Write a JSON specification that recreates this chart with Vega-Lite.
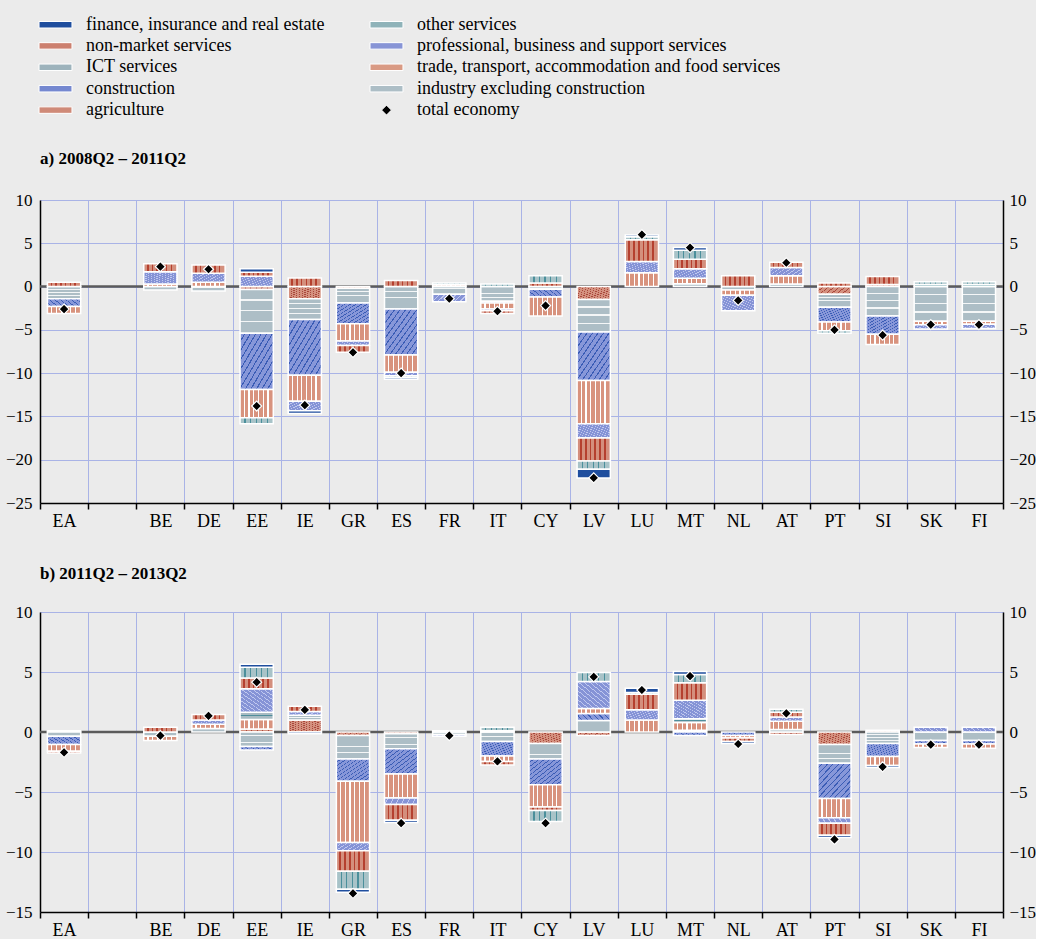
{
"$schema": "https://vega.github.io/schema/vega-lite/v6.json",
"padding": {"left": 5, "top": 15, "right": 0, "bottom": 0},
"config": {
  "background": "#ebebeb",
  "view": {"stroke": null},
  "font": "Liberation Serif",
  "axis": {"title": null, "labelFont": "Liberation Serif", "labelColor": "black"},
  "legend": {"padding": 0}
},
"spacing": 35,
"datasets": {
"seg": [
{"p":"a","c":"EA","s":"ind","v":-1.4},{"p":"a","c":"EA","s":"con","v":-0.9},{"p":"a","c":"EA","s":"tra","v":-0.8},{"p":"a","c":"EA","s":"nm","v":0.5},
{"p":"a","c":"BE","s":"ind","v":-0.4},{"p":"a","c":"BE","s":"tra","v":0.3},{"p":"a","c":"BE","s":"pro","v":1.4},{"p":"a","c":"BE","s":"nm","v":0.95},
{"p":"a","c":"DE","s":"ind","v":-0.5},{"p":"a","c":"DE","s":"tra","v":0.5},{"p":"a","c":"DE","s":"pro","v":1.05},{"p":"a","c":"DE","s":"nm","v":0.95},
{"p":"a","c":"EE","s":"agr","v":-0.35},{"p":"a","c":"EE","s":"ind","v":-5.05},{"p":"a","c":"EE","s":"con","v":-6.5},{"p":"a","c":"EE","s":"tra","v":-3.25},{"p":"a","c":"EE","s":"pro","v":1.2},{"p":"a","c":"EE","s":"nm","v":0.45},{"p":"a","c":"EE","s":"oth","v":-0.7},{"p":"a","c":"EE","s":"fin","v":0.4},
{"p":"a","c":"IE","s":"agr","v":-1.4},{"p":"a","c":"IE","s":"ind","v":-2.4},{"p":"a","c":"IE","s":"con","v":-6.45},{"p":"a","c":"IE","s":"tra","v":-3.0},{"p":"a","c":"IE","s":"pro","v":-1.1},{"p":"a","c":"IE","s":"nm","v":1.0},{"p":"a","c":"IE","s":"fin","v":-0.3},
{"p":"a","c":"GR","s":"agr","v":-0.2},{"p":"a","c":"GR","s":"ind","v":-1.7},{"p":"a","c":"GR","s":"con","v":-2.4},{"p":"a","c":"GR","s":"tra","v":-2.0},{"p":"a","c":"GR","s":"pro","v":-0.5},{"p":"a","c":"GR","s":"nm","v":-0.8},
{"p":"a","c":"ES","s":"ind","v":-2.6},{"p":"a","c":"ES","s":"con","v":-5.3},{"p":"a","c":"ES","s":"tra","v":-2.0},{"p":"a","c":"ES","s":"pro","v":-0.4},{"p":"a","c":"ES","s":"nm","v":0.7},{"p":"a","c":"ES","s":"oth","v":-0.2},{"p":"a","c":"ES","s":"fin","v":-0.2},
{"p":"a","c":"FR","s":"ind","v":-0.9},{"p":"a","c":"FR","s":"tra","v":0.2},{"p":"a","c":"FR","s":"pro","v":-0.85},{"p":"a","c":"FR","s":"oth","v":0.2},
{"p":"a","c":"IT","s":"ind","v":-1.7},{"p":"a","c":"IT","s":"con","v":-0.2},{"p":"a","c":"IT","s":"tra","v":-0.7},{"p":"a","c":"IT","s":"pro","v":-0.2},{"p":"a","c":"IT","s":"nm","v":-0.3},{"p":"a","c":"IT","s":"oth","v":0.3},
{"p":"a","c":"CY","s":"ind","v":-0.3},{"p":"a","c":"CY","s":"con","v":-0.9},{"p":"a","c":"CY","s":"tra","v":-2.2},{"p":"a","c":"CY","s":"nm","v":0.4},{"p":"a","c":"CY","s":"oth","v":0.85},
{"p":"a","c":"LV","s":"agr","v":-1.5},{"p":"a","c":"LV","s":"ind","v":-3.75},{"p":"a","c":"LV","s":"con","v":-5.6},{"p":"a","c":"LV","s":"tra","v":-5.0},{"p":"a","c":"LV","s":"pro","v":-1.65},{"p":"a","c":"LV","s":"nm","v":-2.65},{"p":"a","c":"LV","s":"oth","v":-0.95},{"p":"a","c":"LV","s":"fin","v":-1.0},
{"p":"a","c":"LU","s":"tra","v":1.6},{"p":"a","c":"LU","s":"pro","v":1.3},{"p":"a","c":"LU","s":"nm","v":2.5},{"p":"a","c":"LU","s":"oth","v":0.35},{"p":"a","c":"LU","s":"fin","v":0.2},
{"p":"a","c":"MT","s":"ind","v":0.33},{"p":"a","c":"MT","s":"tra","v":0.62},{"p":"a","c":"MT","s":"pro","v":1.1},{"p":"a","c":"MT","s":"nm","v":1.1},{"p":"a","c":"MT","s":"oth","v":1.05},{"p":"a","c":"MT","s":"fin","v":0.3},
{"p":"a","c":"NL","s":"ind","v":-0.4},{"p":"a","c":"NL","s":"tra","v":-0.6},{"p":"a","c":"NL","s":"pro","v":-1.8},{"p":"a","c":"NL","s":"nm","v":1.25},
{"p":"a","c":"AT","s":"ind","v":0.3},{"p":"a","c":"AT","s":"tra","v":0.95},{"p":"a","c":"AT","s":"pro","v":0.95},{"p":"a","c":"AT","s":"nm","v":0.6},
{"p":"a","c":"PT","s":"agr","v":-0.9},{"p":"a","c":"PT","s":"ind","v":-1.5},{"p":"a","c":"PT","s":"con","v":-1.7},{"p":"a","c":"PT","s":"tra","v":-1.0},{"p":"a","c":"PT","s":"nm","v":0.4},{"p":"a","c":"PT","s":"oth","v":-0.3},
{"p":"a","c":"SI","s":"agr","v":0.25},{"p":"a","c":"SI","s":"ind","v":-3.4},{"p":"a","c":"SI","s":"con","v":-2.1},{"p":"a","c":"SI","s":"tra","v":-1.2},{"p":"a","c":"SI","s":"nm","v":0.9},
{"p":"a","c":"SK","s":"ind","v":-4.0},{"p":"a","c":"SK","s":"tra","v":-0.4},{"p":"a","c":"SK","s":"ict","v":0.25},{"p":"a","c":"SK","s":"pro","v":-0.5},{"p":"a","c":"SK","s":"oth","v":0.3},
{"p":"a","c":"FI","s":"ind","v":-4.0},{"p":"a","c":"FI","s":"tra","v":-0.35},{"p":"a","c":"FI","s":"ict","v":0.25},{"p":"a","c":"FI","s":"pro","v":-0.5},{"p":"a","c":"FI","s":"oth","v":0.3},
{"p":"b","c":"EA","s":"agr","v":0.1},{"p":"b","c":"EA","s":"ind","v":-0.35},{"p":"b","c":"EA","s":"con","v":-0.7},{"p":"b","c":"EA","s":"tra","v":-0.55},{"p":"b","c":"EA","s":"nm","v":-0.15},
{"p":"b","c":"BE","s":"ind","v":-0.35},{"p":"b","c":"BE","s":"tra","v":-0.35},{"p":"b","c":"BE","s":"nm","v":0.4},
{"p":"b","c":"DE","s":"ind","v":0.3},{"p":"b","c":"DE","s":"tra","v":0.35},{"p":"b","c":"DE","s":"pro","v":0.35},{"p":"b","c":"DE","s":"nm","v":0.45},
{"p":"b","c":"EE","s":"agr","v":0.25},{"p":"b","c":"EE","s":"ind","v":-1.2},{"p":"b","c":"EE","s":"con","v":-0.3},{"p":"b","c":"EE","s":"tra","v":0.8},{"p":"b","c":"EE","s":"ict","v":0.6},{"p":"b","c":"EE","s":"pro","v":1.95},{"p":"b","c":"EE","s":"nm","v":0.9},{"p":"b","c":"EE","s":"oth","v":0.9},{"p":"b","c":"EE","s":"fin","v":0.25},
{"p":"b","c":"IE","s":"agr","v":1.0},{"p":"b","c":"IE","s":"ind","v":0.4},{"p":"b","c":"IE","s":"pro","v":0.3},{"p":"b","c":"IE","s":"nm","v":0.45},{"p":"b","c":"IE","s":"fin","v":-0.15},
{"p":"b","c":"GR","s":"agr","v":-0.3},{"p":"b","c":"GR","s":"ind","v":-1.95},{"p":"b","c":"GR","s":"con","v":-1.85},{"p":"b","c":"GR","s":"tra","v":-5.1},{"p":"b","c":"GR","s":"pro","v":-0.7},{"p":"b","c":"GR","s":"nm","v":-1.7},{"p":"b","c":"GR","s":"oth","v":-1.5},{"p":"b","c":"GR","s":"fin","v":-0.25},
{"p":"b","c":"ES","s":"agr","v":-0.15},{"p":"b","c":"ES","s":"ind","v":-1.25},{"p":"b","c":"ES","s":"con","v":-2.1},{"p":"b","c":"ES","s":"tra","v":-2.0},{"p":"b","c":"ES","s":"pro","v":-0.55},{"p":"b","c":"ES","s":"nm","v":-1.3},{"p":"b","c":"ES","s":"fin","v":-0.2},
{"p":"b","c":"FR","s":"ind","v":-0.2},{"p":"b","c":"FR","s":"tra","v":0.1},{"p":"b","c":"FR","s":"pro","v":-0.15},
{"p":"b","c":"IT","s":"ind","v":-0.8},{"p":"b","c":"IT","s":"con","v":-1.2},{"p":"b","c":"IT","s":"tra","v":-0.45},{"p":"b","c":"IT","s":"ict","v":0.1},{"p":"b","c":"IT","s":"nm","v":-0.3},{"p":"b","c":"IT","s":"oth","v":0.3},
{"p":"b","c":"CY","s":"agr","v":-0.95},{"p":"b","c":"CY","s":"ind","v":-1.3},{"p":"b","c":"CY","s":"con","v":-2.15},{"p":"b","c":"CY","s":"tra","v":-1.85},{"p":"b","c":"CY","s":"nm","v":-0.3},{"p":"b","c":"CY","s":"oth","v":-0.9},
{"p":"b","c":"LV","s":"agr","v":-0.3},{"p":"b","c":"LV","s":"ind","v":0.95},{"p":"b","c":"LV","s":"con","v":0.6},{"p":"b","c":"LV","s":"tra","v":0.4},{"p":"b","c":"LV","s":"pro","v":2.25},{"p":"b","c":"LV","s":"oth","v":0.75},
{"p":"b","c":"LU","s":"tra","v":1.0},{"p":"b","c":"LU","s":"pro","v":0.85},{"p":"b","c":"LU","s":"nm","v":1.3},{"p":"b","c":"LU","s":"oth","v":0.15},{"p":"b","c":"LU","s":"fin","v":0.35},
{"p":"b","c":"MT","s":"ind","v":0.15},{"p":"b","c":"MT","s":"con","v":-0.3},{"p":"b","c":"MT","s":"tra","v":0.65},{"p":"b","c":"MT","s":"ict","v":0.3},{"p":"b","c":"MT","s":"pro","v":1.55},{"p":"b","c":"MT","s":"nm","v":1.45},{"p":"b","c":"MT","s":"oth","v":0.7},{"p":"b","c":"MT","s":"fin","v":0.25},
{"p":"b","c":"NL","s":"con","v":-0.3},{"p":"b","c":"NL","s":"tra","v":-0.2},{"p":"b","c":"NL","s":"nm","v":-0.3},{"p":"b","c":"NL","s":"fin","v":-0.15},
{"p":"b","c":"AT","s":"agr","v":-0.2},{"p":"b","c":"AT","s":"ind","v":0.2},{"p":"b","c":"AT","s":"tra","v":0.7},{"p":"b","c":"AT","s":"pro","v":0.35},{"p":"b","c":"AT","s":"nm","v":0.4},{"p":"b","c":"AT","s":"oth","v":0.25},
{"p":"b","c":"PT","s":"agr","v":-1.05},{"p":"b","c":"PT","s":"ind","v":-1.55},{"p":"b","c":"PT","s":"con","v":-2.95},{"p":"b","c":"PT","s":"tra","v":-1.6},{"p":"b","c":"PT","s":"pro","v":-0.45},{"p":"b","c":"PT","s":"nm","v":-1.0},{"p":"b","c":"PT","s":"fin","v":-0.2},
{"p":"b","c":"SI","s":"agr","v":0.15},{"p":"b","c":"SI","s":"ind","v":-0.95},{"p":"b","c":"SI","s":"con","v":-1.1},{"p":"b","c":"SI","s":"tra","v":-0.75},{"p":"b","c":"SI","s":"fin","v":-0.15},
{"p":"b","c":"SK","s":"ind","v":-0.7},{"p":"b","c":"SK","s":"con","v":-0.3},{"p":"b","c":"SK","s":"tra","v":-0.3},{"p":"b","c":"SK","s":"pro","v":0.4},
{"p":"b","c":"FI","s":"ind","v":-0.7},{"p":"b","c":"FI","s":"con","v":-0.3},{"p":"b","c":"FI","s":"tra","v":-0.35},{"p":"b","c":"FI","s":"pro","v":0.4}
],
"tot": [
{"p":"a","c":"EA","v":-2.6},{"p":"a","c":"BE","v":2.3},{"p":"a","c":"DE","v":2.0},{"p":"a","c":"EE","v":-13.8},{"p":"a","c":"IE","v":-13.7},{"p":"a","c":"GR","v":-7.6},{"p":"a","c":"ES","v":-10.0},{"p":"a","c":"FR","v":-1.4},{"p":"a","c":"IT","v":-2.85},{"p":"a","c":"CY","v":-2.2},{"p":"a","c":"LV","v":-22.1},{"p":"a","c":"LU","v":6.0},{"p":"a","c":"MT","v":4.5},{"p":"a","c":"NL","v":-1.6},{"p":"a","c":"AT","v":2.75},{"p":"a","c":"PT","v":-5.0},{"p":"a","c":"SI","v":-5.6},{"p":"a","c":"SK","v":-4.4},{"p":"a","c":"FI","v":-4.4},
{"p":"b","c":"EA","v":-1.7},{"p":"b","c":"BE","v":-0.3},{"p":"b","c":"DE","v":1.35},{"p":"b","c":"EE","v":4.15},{"p":"b","c":"IE","v":1.85},{"p":"b","c":"GR","v":-13.45},{"p":"b","c":"ES","v":-7.6},{"p":"b","c":"FR","v":-0.3},{"p":"b","c":"IT","v":-2.45},{"p":"b","c":"CY","v":-7.6},{"p":"b","c":"LV","v":4.6},{"p":"b","c":"LU","v":3.5},{"p":"b","c":"MT","v":4.65},{"p":"b","c":"NL","v":-1.0},{"p":"b","c":"AT","v":1.55},{"p":"b","c":"PT","v":-8.95},{"p":"b","c":"SI","v":-2.9},{"p":"b","c":"SK","v":-1.05},{"p":"b","c":"FI","v":-1.05}
]
},
"vconcat": [
{
 "width": 963, "height": 303,
 "title": {"text": "a) 2008Q2 – 2011Q2", "anchor": "start", "frame": "group", "font": "Liberation Serif", "fontSize": 17, "fontWeight": "bold", "color": "black", "offset": 23},
 "layer": [
  {"data": {"values": [{}]}, "mark": {"type": "rule", "color": "#5b5b5b", "strokeWidth": 2.5}, "encoding": {"y": {"datum": 0, "type": "quantitative", "scale": {"domain": [-25, 10], "nice": false}, "axis": null}}},
  {
   "data": {"name": "seg"},
   "transform": [{"filter": "datum.p === 'a'"}, {"stack": "v", "groupby": ["c"], "as": ["v0", "v1"]}],
   "encoding": {
     "x": {"field": "c", "type": "nominal", "scale": {"type": "band", "domain": ["EA"," ","BE","DE","EE","IE","GR","ES","FR","IT","CY","LV","LU","MT","NL","AT","PT","SI","SK","FI"], "paddingInner": 0, "paddingOuter": 0},
           "axis": {"tickBand": "extent", "grid": true, "gridColor": "#a9b3e6", "gridWidth": 1, "ticks": true, "tickColor": "black", "tickSize": 6, "tickWidth": 1.5, "domain": true, "domainColor": "black", "domainWidth": 1.5, "labelFontSize": 18, "labelColor": "black", "labelPadding": 3, "labelAngle": 0, "title": null}},
     "y": {"field": "v0", "type": "quantitative", "scale": {"domain": [-25, 10], "nice": false},
           "axis": {"orient": "left", "values": [-25,-20,-15,-10,-5,0,5,10], "grid": true, "gridColor": "#a9b3e6", "gridWidth": 1, "ticks": false, "domain": true, "domainColor": "black", "domainWidth": 1.5, "labelFontSize": 17, "labelColor": "black", "labelPadding": 8, "title": null}},
     "y2": {"field": "v1"}
   },
   "layer": [
    {"mark": {"type": "bar", "width": {"band": 0.69}},
     "encoding": {"color": {"field": "s", "type": "nominal",
       "scale": {"domain": ["fin","nm","ict","con","agr","oth","pro","tra","ind","tot"], "range": ["#1f4e9e","#cc7f6e","#9db3bc","#7588d0","#cf8a78","#8fb3b9","#8794d6","#d99a84","#adbec6","#000000"]},
       "legend": {"orient": "none", "legendX": 6, "legendY": -185, "columns": 2, "columnPadding": 43, "rowPadding": 2.4, "title": null,
         "labelFont": "Liberation Serif", "labelFontSize": 18, "labelColor": "black", "labelOffset": 21, "labelLimit": 0,
         "symbolSize": 324, "symbolStrokeColor": "white", "symbolStrokeWidth": 1, "symbolOpacity": 1,
         "labelExpr": "datum.label==='fin'?'finance, insurance and real estate':datum.label==='oth'?'other services':datum.label==='nm'?'non-market services':datum.label==='pro'?'professional, business and support services':datum.label==='ict'?'ICT services':datum.label==='tra'?'trade, transport, accommodation and food services':datum.label==='con'?'construction':datum.label==='ind'?'industry excluding construction':datum.label==='agr'?'agriculture':'total economy'",
         "encode": {"symbols": {"update": {"shape": {"signal": "datum.value==='tot'?'M-0.55,0L0,-0.55L0.55,0L0,0.55Z':'M-1.83,-0.36H1.83V0.36H-1.83Z'"}}}}}}}},
    {"transform": [{"filter": "datum.s==='agr'"}], "mark": {"type": "bar", "width": {"band": 0.69}, "stroke": "white", "strokeWidth": 1.5, "fill": {"gradient":"linear","x1":1,"y1":0,"x2":0,"y2":1,"stops":[{"offset":0,"color":"#d4917f"},{"offset":0.065,"color":"#d4917f"},{"offset":0.065,"color":"#a9463a"},{"offset":0.083,"color":"#a9463a"},{"offset":0.083,"color":"#d4917f"},{"offset":0.148,"color":"#d4917f"},{"offset":0.148,"color":"#a9463a"},{"offset":0.167,"color":"#a9463a"},{"offset":0.167,"color":"#d4917f"},{"offset":0.232,"color":"#d4917f"},{"offset":0.232,"color":"#a9463a"},{"offset":0.25,"color":"#a9463a"},{"offset":0.25,"color":"#d4917f"},{"offset":0.315,"color":"#d4917f"},{"offset":0.315,"color":"#a9463a"},{"offset":0.333,"color":"#a9463a"},{"offset":0.333,"color":"#d4917f"},{"offset":0.398,"color":"#d4917f"},{"offset":0.398,"color":"#a9463a"},{"offset":0.417,"color":"#a9463a"},{"offset":0.417,"color":"#d4917f"},{"offset":0.482,"color":"#d4917f"},{"offset":0.482,"color":"#a9463a"},{"offset":0.5,"color":"#a9463a"},{"offset":0.5,"color":"#d4917f"},{"offset":0.565,"color":"#d4917f"},{"offset":0.565,"color":"#a9463a"},{"offset":0.583,"color":"#a9463a"},{"offset":0.583,"color":"#d4917f"},{"offset":0.648,"color":"#d4917f"},{"offset":0.648,"color":"#a9463a"},{"offset":0.667,"color":"#a9463a"},{"offset":0.667,"color":"#d4917f"},{"offset":0.732,"color":"#d4917f"},{"offset":0.732,"color":"#a9463a"},{"offset":0.75,"color":"#a9463a"},{"offset":0.75,"color":"#d4917f"},{"offset":0.815,"color":"#d4917f"},{"offset":0.815,"color":"#a9463a"},{"offset":0.833,"color":"#a9463a"},{"offset":0.833,"color":"#d4917f"},{"offset":0.898,"color":"#d4917f"},{"offset":0.898,"color":"#a9463a"},{"offset":0.917,"color":"#a9463a"},{"offset":0.917,"color":"#d4917f"},{"offset":1,"color":"#d4917f"}]}}},
    {"transform": [{"filter": "datum.s==='ind'"}], "mark": {"type": "bar", "width": {"band": 0.69}, "stroke": "white", "strokeWidth": 1.5, "fill": {"gradient":"linear","x1":0,"y1":0,"x2":0,"y2":1,"stops":[{"offset":0,"color":"#adbec6"},{"offset":0.21,"color":"#adbec6"},{"offset":0.21,"color":"#f4f6f7"},{"offset":0.25,"color":"#f4f6f7"},{"offset":0.25,"color":"#adbec6"},{"offset":0.46,"color":"#adbec6"},{"offset":0.46,"color":"#f4f6f7"},{"offset":0.5,"color":"#f4f6f7"},{"offset":0.5,"color":"#adbec6"},{"offset":0.71,"color":"#adbec6"},{"offset":0.71,"color":"#f4f6f7"},{"offset":0.75,"color":"#f4f6f7"},{"offset":0.75,"color":"#adbec6"},{"offset":1,"color":"#adbec6"}]}}},
    {"transform": [{"filter": "datum.s==='con'"}], "mark": {"type": "bar", "width": {"band": 0.69}, "stroke": "white", "strokeWidth": 1.5, "fill": {"gradient":"linear","x1":0,"y1":0,"x2":1,"y2":1,"stops":[{"offset":0,"color":"#8797d9"},{"offset":0.065,"color":"#8797d9"},{"offset":0.065,"color":"#3a5cb5"},{"offset":0.083,"color":"#3a5cb5"},{"offset":0.083,"color":"#8797d9"},{"offset":0.148,"color":"#8797d9"},{"offset":0.148,"color":"#3a5cb5"},{"offset":0.167,"color":"#3a5cb5"},{"offset":0.167,"color":"#8797d9"},{"offset":0.232,"color":"#8797d9"},{"offset":0.232,"color":"#3a5cb5"},{"offset":0.25,"color":"#3a5cb5"},{"offset":0.25,"color":"#8797d9"},{"offset":0.315,"color":"#8797d9"},{"offset":0.315,"color":"#3a5cb5"},{"offset":0.333,"color":"#3a5cb5"},{"offset":0.333,"color":"#8797d9"},{"offset":0.398,"color":"#8797d9"},{"offset":0.398,"color":"#3a5cb5"},{"offset":0.417,"color":"#3a5cb5"},{"offset":0.417,"color":"#8797d9"},{"offset":0.482,"color":"#8797d9"},{"offset":0.482,"color":"#3a5cb5"},{"offset":0.5,"color":"#3a5cb5"},{"offset":0.5,"color":"#8797d9"},{"offset":0.565,"color":"#8797d9"},{"offset":0.565,"color":"#3a5cb5"},{"offset":0.583,"color":"#3a5cb5"},{"offset":0.583,"color":"#8797d9"},{"offset":0.648,"color":"#8797d9"},{"offset":0.648,"color":"#3a5cb5"},{"offset":0.667,"color":"#3a5cb5"},{"offset":0.667,"color":"#8797d9"},{"offset":0.732,"color":"#8797d9"},{"offset":0.732,"color":"#3a5cb5"},{"offset":0.75,"color":"#3a5cb5"},{"offset":0.75,"color":"#8797d9"},{"offset":0.815,"color":"#8797d9"},{"offset":0.815,"color":"#3a5cb5"},{"offset":0.833,"color":"#3a5cb5"},{"offset":0.833,"color":"#8797d9"},{"offset":0.898,"color":"#8797d9"},{"offset":0.898,"color":"#3a5cb5"},{"offset":0.917,"color":"#3a5cb5"},{"offset":0.917,"color":"#8797d9"},{"offset":1,"color":"#8797d9"}]}}},
    {"transform": [{"filter": "datum.s==='tra'"}], "mark": {"type": "bar", "width": {"band": 0.69}, "stroke": "white", "strokeWidth": 1.5, "fill": {"gradient":"linear","x1":0,"y1":0,"x2":1,"y2":0,"stops":[{"offset":0,"color":"#d8937e"},{"offset":0.107,"color":"#d8937e"},{"offset":0.107,"color":"#ffffff"},{"offset":0.143,"color":"#ffffff"},{"offset":0.143,"color":"#d8937e"},{"offset":0.25,"color":"#d8937e"},{"offset":0.25,"color":"#ffffff"},{"offset":0.286,"color":"#ffffff"},{"offset":0.286,"color":"#d8937e"},{"offset":0.393,"color":"#d8937e"},{"offset":0.393,"color":"#ffffff"},{"offset":0.429,"color":"#ffffff"},{"offset":0.429,"color":"#d8937e"},{"offset":0.536,"color":"#d8937e"},{"offset":0.536,"color":"#ffffff"},{"offset":0.571,"color":"#ffffff"},{"offset":0.571,"color":"#d8937e"},{"offset":0.679,"color":"#d8937e"},{"offset":0.679,"color":"#ffffff"},{"offset":0.714,"color":"#ffffff"},{"offset":0.714,"color":"#d8937e"},{"offset":0.821,"color":"#d8937e"},{"offset":0.821,"color":"#ffffff"},{"offset":0.857,"color":"#ffffff"},{"offset":0.857,"color":"#d8937e"},{"offset":1,"color":"#d8937e"}]}}},
    {"transform": [{"filter": "datum.s==='ict'"}], "mark": {"type": "bar", "width": {"band": 0.69}, "stroke": "white", "strokeWidth": 1.5, "fill": {"gradient":"linear","x1":0,"y1":0,"x2":0,"y2":1,"stops":[{"offset":0,"color":"#a8bbc3"},{"offset":0.42,"color":"#a8bbc3"},{"offset":0.42,"color":"#4f8e9b"},{"offset":0.58,"color":"#4f8e9b"},{"offset":0.58,"color":"#a8bbc3"},{"offset":1,"color":"#a8bbc3"}]}}},
    {"transform": [{"filter": "datum.s==='pro'"}], "mark": {"type": "bar", "width": {"band": 0.69}, "stroke": "white", "strokeWidth": 1.5, "fill": {"gradient":"linear","x1":1,"y1":0,"x2":0,"y2":1,"stops":[{"offset":0,"color":"#8593d6"},{"offset":0.065,"color":"#8593d6"},{"offset":0.065,"color":"#c0c8ef"},{"offset":0.083,"color":"#c0c8ef"},{"offset":0.083,"color":"#8593d6"},{"offset":0.148,"color":"#8593d6"},{"offset":0.148,"color":"#c0c8ef"},{"offset":0.167,"color":"#c0c8ef"},{"offset":0.167,"color":"#8593d6"},{"offset":0.232,"color":"#8593d6"},{"offset":0.232,"color":"#c0c8ef"},{"offset":0.25,"color":"#c0c8ef"},{"offset":0.25,"color":"#8593d6"},{"offset":0.315,"color":"#8593d6"},{"offset":0.315,"color":"#c0c8ef"},{"offset":0.333,"color":"#c0c8ef"},{"offset":0.333,"color":"#8593d6"},{"offset":0.398,"color":"#8593d6"},{"offset":0.398,"color":"#c0c8ef"},{"offset":0.417,"color":"#c0c8ef"},{"offset":0.417,"color":"#8593d6"},{"offset":0.482,"color":"#8593d6"},{"offset":0.482,"color":"#c0c8ef"},{"offset":0.5,"color":"#c0c8ef"},{"offset":0.5,"color":"#8593d6"},{"offset":0.565,"color":"#8593d6"},{"offset":0.565,"color":"#c0c8ef"},{"offset":0.583,"color":"#c0c8ef"},{"offset":0.583,"color":"#8593d6"},{"offset":0.648,"color":"#8593d6"},{"offset":0.648,"color":"#c0c8ef"},{"offset":0.667,"color":"#c0c8ef"},{"offset":0.667,"color":"#8593d6"},{"offset":0.732,"color":"#8593d6"},{"offset":0.732,"color":"#c0c8ef"},{"offset":0.75,"color":"#c0c8ef"},{"offset":0.75,"color":"#8593d6"},{"offset":0.815,"color":"#8593d6"},{"offset":0.815,"color":"#c0c8ef"},{"offset":0.833,"color":"#c0c8ef"},{"offset":0.833,"color":"#8593d6"},{"offset":0.898,"color":"#8593d6"},{"offset":0.898,"color":"#c0c8ef"},{"offset":0.917,"color":"#c0c8ef"},{"offset":0.917,"color":"#8593d6"},{"offset":1,"color":"#8593d6"}]}}},
    {"transform": [{"filter": "datum.s==='nm'"}], "mark": {"type": "bar", "width": {"band": 0.69}, "stroke": "white", "strokeWidth": 1.5, "fill": {"gradient":"linear","x1":0,"y1":0,"x2":1,"y2":0,"stops":[{"offset":0,"color":"#d48f7d"},{"offset":0.093,"color":"#d48f7d"},{"offset":0.093,"color":"#b5402f"},{"offset":0.143,"color":"#b5402f"},{"offset":0.143,"color":"#d48f7d"},{"offset":0.236,"color":"#d48f7d"},{"offset":0.236,"color":"#b5402f"},{"offset":0.286,"color":"#b5402f"},{"offset":0.286,"color":"#d48f7d"},{"offset":0.379,"color":"#d48f7d"},{"offset":0.379,"color":"#b5402f"},{"offset":0.429,"color":"#b5402f"},{"offset":0.429,"color":"#d48f7d"},{"offset":0.521,"color":"#d48f7d"},{"offset":0.521,"color":"#b5402f"},{"offset":0.571,"color":"#b5402f"},{"offset":0.571,"color":"#d48f7d"},{"offset":0.664,"color":"#d48f7d"},{"offset":0.664,"color":"#b5402f"},{"offset":0.714,"color":"#b5402f"},{"offset":0.714,"color":"#d48f7d"},{"offset":0.807,"color":"#d48f7d"},{"offset":0.807,"color":"#b5402f"},{"offset":0.857,"color":"#b5402f"},{"offset":0.857,"color":"#d48f7d"},{"offset":1,"color":"#d48f7d"}]}}},
    {"transform": [{"filter": "datum.s==='oth'"}], "mark": {"type": "bar", "width": {"band": 0.69}, "stroke": "white", "strokeWidth": 1.5, "fill": {"gradient":"linear","x1":0,"y1":0,"x2":1,"y2":0,"stops":[{"offset":0,"color":"#a8c3c8"},{"offset":0.133,"color":"#a8c3c8"},{"offset":0.133,"color":"#4b8f9b"},{"offset":0.167,"color":"#4b8f9b"},{"offset":0.167,"color":"#a8c3c8"},{"offset":0.3,"color":"#a8c3c8"},{"offset":0.3,"color":"#4b8f9b"},{"offset":0.333,"color":"#4b8f9b"},{"offset":0.333,"color":"#a8c3c8"},{"offset":0.467,"color":"#a8c3c8"},{"offset":0.467,"color":"#4b8f9b"},{"offset":0.5,"color":"#4b8f9b"},{"offset":0.5,"color":"#a8c3c8"},{"offset":0.633,"color":"#a8c3c8"},{"offset":0.633,"color":"#4b8f9b"},{"offset":0.667,"color":"#4b8f9b"},{"offset":0.667,"color":"#a8c3c8"},{"offset":0.8,"color":"#a8c3c8"},{"offset":0.8,"color":"#4b8f9b"},{"offset":0.833,"color":"#4b8f9b"},{"offset":0.833,"color":"#a8c3c8"},{"offset":1,"color":"#a8c3c8"}]}}},
    {"transform": [{"filter": "datum.s==='fin'"}], "mark": {"type": "bar", "width": {"band": 0.69}, "stroke": "white", "strokeWidth": 1.5, "fill": "#1f4e9e"}}
   ]
  },
  {"data": {"name": "tot"}, "transform": [{"filter": "datum.p === 'a'"}],
   "mark": {"type": "point", "shape": "diamond", "filled": true, "color": "black", "stroke": "white", "strokeWidth": 1.2, "size": 100, "opacity": 1},
   "encoding": {
     "x": {"field": "c", "type": "nominal", "scale": {"type": "band", "domain": ["EA"," ","BE","DE","EE","IE","GR","ES","FR","IT","CY","LV","LU","MT","NL","AT","PT","SI","SK","FI"], "paddingInner": 0, "paddingOuter": 0}},
     "y": {"field": "v", "type": "quantitative", "scale": {"domain": [-25, 10], "nice": false},
           "axis": {"orient": "right", "values": [-25,-20,-15,-10,-5,0,5,10], "grid": false, "ticks": false, "domain": true, "domainColor": "black", "domainWidth": 1.5, "labelFontSize": 17, "labelColor": "black", "labelPadding": 6, "title": null}}
   }}
 ],
 "resolve": {"axis": {"y": "independent"}}
},
{
 "width": 963, "height": 300,
 "title": {"text": "b) 2011Q2 – 2013Q2", "anchor": "start", "frame": "group", "font": "Liberation Serif", "fontSize": 17, "fontWeight": "bold", "color": "black", "offset": 20},
 "layer": [
  {"data": {"values": [{}]}, "mark": {"type": "rule", "color": "#5b5b5b", "strokeWidth": 2.5}, "encoding": {"y": {"datum": 0, "type": "quantitative", "scale": {"domain": [-15, 10], "nice": false}, "axis": null}}},
  {
   "data": {"name": "seg"},
   "transform": [{"filter": "datum.p === 'b'"}, {"stack": "v", "groupby": ["c"], "as": ["v0", "v1"]}],
   "encoding": {
     "x": {"field": "c", "type": "nominal", "scale": {"type": "band", "domain": ["EA"," ","BE","DE","EE","IE","GR","ES","FR","IT","CY","LV","LU","MT","NL","AT","PT","SI","SK","FI"], "paddingInner": 0, "paddingOuter": 0},
           "axis": {"tickBand": "extent", "grid": true, "gridColor": "#a9b3e6", "gridWidth": 1, "ticks": true, "tickColor": "black", "tickSize": 6, "tickWidth": 1.5, "domain": true, "domainColor": "black", "domainWidth": 1.5, "labelFontSize": 18, "labelColor": "black", "labelPadding": 3, "labelAngle": 0, "title": null}},
     "y": {"field": "v0", "type": "quantitative", "scale": {"domain": [-15, 10], "nice": false},
           "axis": {"orient": "left", "values": [-15,-10,-5,0,5,10], "grid": true, "gridColor": "#a9b3e6", "gridWidth": 1, "ticks": false, "domain": true, "domainColor": "black", "domainWidth": 1.5, "labelFontSize": 17, "labelColor": "black", "labelPadding": 8, "title": null}},
     "y2": {"field": "v1"}
   },
   "layer": [
    {"transform": [{"filter": "datum.s==='agr'"}], "mark": {"type": "bar", "width": {"band": 0.69}, "stroke": "white", "strokeWidth": 1.5, "fill": {"gradient":"linear","x1":1,"y1":0,"x2":0,"y2":1,"stops":[{"offset":0,"color":"#d4917f"},{"offset":0.065,"color":"#d4917f"},{"offset":0.065,"color":"#a9463a"},{"offset":0.083,"color":"#a9463a"},{"offset":0.083,"color":"#d4917f"},{"offset":0.148,"color":"#d4917f"},{"offset":0.148,"color":"#a9463a"},{"offset":0.167,"color":"#a9463a"},{"offset":0.167,"color":"#d4917f"},{"offset":0.232,"color":"#d4917f"},{"offset":0.232,"color":"#a9463a"},{"offset":0.25,"color":"#a9463a"},{"offset":0.25,"color":"#d4917f"},{"offset":0.315,"color":"#d4917f"},{"offset":0.315,"color":"#a9463a"},{"offset":0.333,"color":"#a9463a"},{"offset":0.333,"color":"#d4917f"},{"offset":0.398,"color":"#d4917f"},{"offset":0.398,"color":"#a9463a"},{"offset":0.417,"color":"#a9463a"},{"offset":0.417,"color":"#d4917f"},{"offset":0.482,"color":"#d4917f"},{"offset":0.482,"color":"#a9463a"},{"offset":0.5,"color":"#a9463a"},{"offset":0.5,"color":"#d4917f"},{"offset":0.565,"color":"#d4917f"},{"offset":0.565,"color":"#a9463a"},{"offset":0.583,"color":"#a9463a"},{"offset":0.583,"color":"#d4917f"},{"offset":0.648,"color":"#d4917f"},{"offset":0.648,"color":"#a9463a"},{"offset":0.667,"color":"#a9463a"},{"offset":0.667,"color":"#d4917f"},{"offset":0.732,"color":"#d4917f"},{"offset":0.732,"color":"#a9463a"},{"offset":0.75,"color":"#a9463a"},{"offset":0.75,"color":"#d4917f"},{"offset":0.815,"color":"#d4917f"},{"offset":0.815,"color":"#a9463a"},{"offset":0.833,"color":"#a9463a"},{"offset":0.833,"color":"#d4917f"},{"offset":0.898,"color":"#d4917f"},{"offset":0.898,"color":"#a9463a"},{"offset":0.917,"color":"#a9463a"},{"offset":0.917,"color":"#d4917f"},{"offset":1,"color":"#d4917f"}]}}},
    {"transform": [{"filter": "datum.s==='ind'"}], "mark": {"type": "bar", "width": {"band": 0.69}, "stroke": "white", "strokeWidth": 1.5, "fill": {"gradient":"linear","x1":0,"y1":0,"x2":0,"y2":1,"stops":[{"offset":0,"color":"#adbec6"},{"offset":0.21,"color":"#adbec6"},{"offset":0.21,"color":"#f4f6f7"},{"offset":0.25,"color":"#f4f6f7"},{"offset":0.25,"color":"#adbec6"},{"offset":0.46,"color":"#adbec6"},{"offset":0.46,"color":"#f4f6f7"},{"offset":0.5,"color":"#f4f6f7"},{"offset":0.5,"color":"#adbec6"},{"offset":0.71,"color":"#adbec6"},{"offset":0.71,"color":"#f4f6f7"},{"offset":0.75,"color":"#f4f6f7"},{"offset":0.75,"color":"#adbec6"},{"offset":1,"color":"#adbec6"}]}}},
    {"transform": [{"filter": "datum.s==='con'"}], "mark": {"type": "bar", "width": {"band": 0.69}, "stroke": "white", "strokeWidth": 1.5, "fill": {"gradient":"linear","x1":0,"y1":0,"x2":1,"y2":1,"stops":[{"offset":0,"color":"#8797d9"},{"offset":0.065,"color":"#8797d9"},{"offset":0.065,"color":"#3a5cb5"},{"offset":0.083,"color":"#3a5cb5"},{"offset":0.083,"color":"#8797d9"},{"offset":0.148,"color":"#8797d9"},{"offset":0.148,"color":"#3a5cb5"},{"offset":0.167,"color":"#3a5cb5"},{"offset":0.167,"color":"#8797d9"},{"offset":0.232,"color":"#8797d9"},{"offset":0.232,"color":"#3a5cb5"},{"offset":0.25,"color":"#3a5cb5"},{"offset":0.25,"color":"#8797d9"},{"offset":0.315,"color":"#8797d9"},{"offset":0.315,"color":"#3a5cb5"},{"offset":0.333,"color":"#3a5cb5"},{"offset":0.333,"color":"#8797d9"},{"offset":0.398,"color":"#8797d9"},{"offset":0.398,"color":"#3a5cb5"},{"offset":0.417,"color":"#3a5cb5"},{"offset":0.417,"color":"#8797d9"},{"offset":0.482,"color":"#8797d9"},{"offset":0.482,"color":"#3a5cb5"},{"offset":0.5,"color":"#3a5cb5"},{"offset":0.5,"color":"#8797d9"},{"offset":0.565,"color":"#8797d9"},{"offset":0.565,"color":"#3a5cb5"},{"offset":0.583,"color":"#3a5cb5"},{"offset":0.583,"color":"#8797d9"},{"offset":0.648,"color":"#8797d9"},{"offset":0.648,"color":"#3a5cb5"},{"offset":0.667,"color":"#3a5cb5"},{"offset":0.667,"color":"#8797d9"},{"offset":0.732,"color":"#8797d9"},{"offset":0.732,"color":"#3a5cb5"},{"offset":0.75,"color":"#3a5cb5"},{"offset":0.75,"color":"#8797d9"},{"offset":0.815,"color":"#8797d9"},{"offset":0.815,"color":"#3a5cb5"},{"offset":0.833,"color":"#3a5cb5"},{"offset":0.833,"color":"#8797d9"},{"offset":0.898,"color":"#8797d9"},{"offset":0.898,"color":"#3a5cb5"},{"offset":0.917,"color":"#3a5cb5"},{"offset":0.917,"color":"#8797d9"},{"offset":1,"color":"#8797d9"}]}}},
    {"transform": [{"filter": "datum.s==='tra'"}], "mark": {"type": "bar", "width": {"band": 0.69}, "stroke": "white", "strokeWidth": 1.5, "fill": {"gradient":"linear","x1":0,"y1":0,"x2":1,"y2":0,"stops":[{"offset":0,"color":"#d8937e"},{"offset":0.107,"color":"#d8937e"},{"offset":0.107,"color":"#ffffff"},{"offset":0.143,"color":"#ffffff"},{"offset":0.143,"color":"#d8937e"},{"offset":0.25,"color":"#d8937e"},{"offset":0.25,"color":"#ffffff"},{"offset":0.286,"color":"#ffffff"},{"offset":0.286,"color":"#d8937e"},{"offset":0.393,"color":"#d8937e"},{"offset":0.393,"color":"#ffffff"},{"offset":0.429,"color":"#ffffff"},{"offset":0.429,"color":"#d8937e"},{"offset":0.536,"color":"#d8937e"},{"offset":0.536,"color":"#ffffff"},{"offset":0.571,"color":"#ffffff"},{"offset":0.571,"color":"#d8937e"},{"offset":0.679,"color":"#d8937e"},{"offset":0.679,"color":"#ffffff"},{"offset":0.714,"color":"#ffffff"},{"offset":0.714,"color":"#d8937e"},{"offset":0.821,"color":"#d8937e"},{"offset":0.821,"color":"#ffffff"},{"offset":0.857,"color":"#ffffff"},{"offset":0.857,"color":"#d8937e"},{"offset":1,"color":"#d8937e"}]}}},
    {"transform": [{"filter": "datum.s==='ict'"}], "mark": {"type": "bar", "width": {"band": 0.69}, "stroke": "white", "strokeWidth": 1.5, "fill": {"gradient":"linear","x1":0,"y1":0,"x2":0,"y2":1,"stops":[{"offset":0,"color":"#a8bbc3"},{"offset":0.42,"color":"#a8bbc3"},{"offset":0.42,"color":"#4f8e9b"},{"offset":0.58,"color":"#4f8e9b"},{"offset":0.58,"color":"#a8bbc3"},{"offset":1,"color":"#a8bbc3"}]}}},
    {"transform": [{"filter": "datum.s==='pro'"}], "mark": {"type": "bar", "width": {"band": 0.69}, "stroke": "white", "strokeWidth": 1.5, "fill": {"gradient":"linear","x1":1,"y1":0,"x2":0,"y2":1,"stops":[{"offset":0,"color":"#8593d6"},{"offset":0.065,"color":"#8593d6"},{"offset":0.065,"color":"#c0c8ef"},{"offset":0.083,"color":"#c0c8ef"},{"offset":0.083,"color":"#8593d6"},{"offset":0.148,"color":"#8593d6"},{"offset":0.148,"color":"#c0c8ef"},{"offset":0.167,"color":"#c0c8ef"},{"offset":0.167,"color":"#8593d6"},{"offset":0.232,"color":"#8593d6"},{"offset":0.232,"color":"#c0c8ef"},{"offset":0.25,"color":"#c0c8ef"},{"offset":0.25,"color":"#8593d6"},{"offset":0.315,"color":"#8593d6"},{"offset":0.315,"color":"#c0c8ef"},{"offset":0.333,"color":"#c0c8ef"},{"offset":0.333,"color":"#8593d6"},{"offset":0.398,"color":"#8593d6"},{"offset":0.398,"color":"#c0c8ef"},{"offset":0.417,"color":"#c0c8ef"},{"offset":0.417,"color":"#8593d6"},{"offset":0.482,"color":"#8593d6"},{"offset":0.482,"color":"#c0c8ef"},{"offset":0.5,"color":"#c0c8ef"},{"offset":0.5,"color":"#8593d6"},{"offset":0.565,"color":"#8593d6"},{"offset":0.565,"color":"#c0c8ef"},{"offset":0.583,"color":"#c0c8ef"},{"offset":0.583,"color":"#8593d6"},{"offset":0.648,"color":"#8593d6"},{"offset":0.648,"color":"#c0c8ef"},{"offset":0.667,"color":"#c0c8ef"},{"offset":0.667,"color":"#8593d6"},{"offset":0.732,"color":"#8593d6"},{"offset":0.732,"color":"#c0c8ef"},{"offset":0.75,"color":"#c0c8ef"},{"offset":0.75,"color":"#8593d6"},{"offset":0.815,"color":"#8593d6"},{"offset":0.815,"color":"#c0c8ef"},{"offset":0.833,"color":"#c0c8ef"},{"offset":0.833,"color":"#8593d6"},{"offset":0.898,"color":"#8593d6"},{"offset":0.898,"color":"#c0c8ef"},{"offset":0.917,"color":"#c0c8ef"},{"offset":0.917,"color":"#8593d6"},{"offset":1,"color":"#8593d6"}]}}},
    {"transform": [{"filter": "datum.s==='nm'"}], "mark": {"type": "bar", "width": {"band": 0.69}, "stroke": "white", "strokeWidth": 1.5, "fill": {"gradient":"linear","x1":0,"y1":0,"x2":1,"y2":0,"stops":[{"offset":0,"color":"#d48f7d"},{"offset":0.093,"color":"#d48f7d"},{"offset":0.093,"color":"#b5402f"},{"offset":0.143,"color":"#b5402f"},{"offset":0.143,"color":"#d48f7d"},{"offset":0.236,"color":"#d48f7d"},{"offset":0.236,"color":"#b5402f"},{"offset":0.286,"color":"#b5402f"},{"offset":0.286,"color":"#d48f7d"},{"offset":0.379,"color":"#d48f7d"},{"offset":0.379,"color":"#b5402f"},{"offset":0.429,"color":"#b5402f"},{"offset":0.429,"color":"#d48f7d"},{"offset":0.521,"color":"#d48f7d"},{"offset":0.521,"color":"#b5402f"},{"offset":0.571,"color":"#b5402f"},{"offset":0.571,"color":"#d48f7d"},{"offset":0.664,"color":"#d48f7d"},{"offset":0.664,"color":"#b5402f"},{"offset":0.714,"color":"#b5402f"},{"offset":0.714,"color":"#d48f7d"},{"offset":0.807,"color":"#d48f7d"},{"offset":0.807,"color":"#b5402f"},{"offset":0.857,"color":"#b5402f"},{"offset":0.857,"color":"#d48f7d"},{"offset":1,"color":"#d48f7d"}]}}},
    {"transform": [{"filter": "datum.s==='oth'"}], "mark": {"type": "bar", "width": {"band": 0.69}, "stroke": "white", "strokeWidth": 1.5, "fill": {"gradient":"linear","x1":0,"y1":0,"x2":1,"y2":0,"stops":[{"offset":0,"color":"#a8c3c8"},{"offset":0.133,"color":"#a8c3c8"},{"offset":0.133,"color":"#4b8f9b"},{"offset":0.167,"color":"#4b8f9b"},{"offset":0.167,"color":"#a8c3c8"},{"offset":0.3,"color":"#a8c3c8"},{"offset":0.3,"color":"#4b8f9b"},{"offset":0.333,"color":"#4b8f9b"},{"offset":0.333,"color":"#a8c3c8"},{"offset":0.467,"color":"#a8c3c8"},{"offset":0.467,"color":"#4b8f9b"},{"offset":0.5,"color":"#4b8f9b"},{"offset":0.5,"color":"#a8c3c8"},{"offset":0.633,"color":"#a8c3c8"},{"offset":0.633,"color":"#4b8f9b"},{"offset":0.667,"color":"#4b8f9b"},{"offset":0.667,"color":"#a8c3c8"},{"offset":0.8,"color":"#a8c3c8"},{"offset":0.8,"color":"#4b8f9b"},{"offset":0.833,"color":"#4b8f9b"},{"offset":0.833,"color":"#a8c3c8"},{"offset":1,"color":"#a8c3c8"}]}}},
    {"transform": [{"filter": "datum.s==='fin'"}], "mark": {"type": "bar", "width": {"band": 0.69}, "stroke": "white", "strokeWidth": 1.5, "fill": "#1f4e9e"}}
   ]
  },
  {"data": {"name": "tot"}, "transform": [{"filter": "datum.p === 'b'"}],
   "mark": {"type": "point", "shape": "diamond", "filled": true, "color": "black", "stroke": "white", "strokeWidth": 1.2, "size": 100, "opacity": 1},
   "encoding": {
     "x": {"field": "c", "type": "nominal", "scale": {"type": "band", "domain": ["EA"," ","BE","DE","EE","IE","GR","ES","FR","IT","CY","LV","LU","MT","NL","AT","PT","SI","SK","FI"], "paddingInner": 0, "paddingOuter": 0}},
     "y": {"field": "v", "type": "quantitative", "scale": {"domain": [-15, 10], "nice": false},
           "axis": {"orient": "right", "values": [-15,-10,-5,0,5,10], "grid": false, "ticks": false, "domain": true, "domainColor": "black", "domainWidth": 1.5, "labelFontSize": 17, "labelColor": "black", "labelPadding": 6, "title": null}}
   }}
 ],
 "resolve": {"axis": {"y": "independent"}}
}
]
}
